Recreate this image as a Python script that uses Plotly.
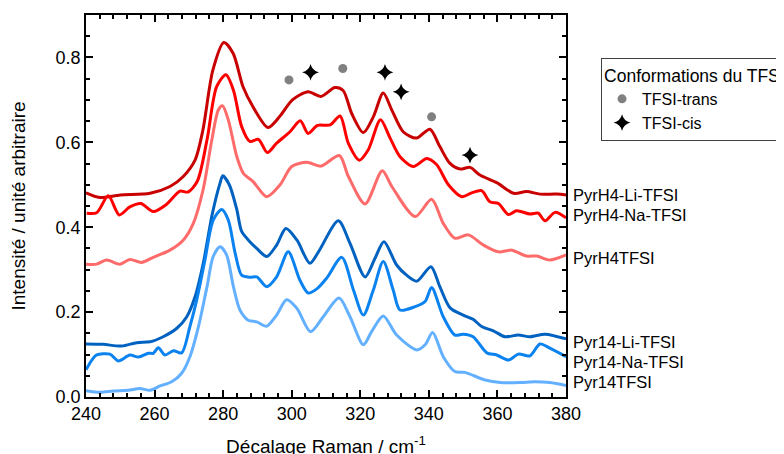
import plotly.graph_objects as go

# ---------------- data ----------------
li_h4_x = [240, 244, 250, 258.7, 264.5, 268.3, 271.8, 274.1, 277, 280.2, 282.9, 285.8, 288.7, 293.1,
           296.6, 300.2, 304.8, 308.5, 312.6, 315, 317.5, 320.9, 323.8, 326.7, 329.2, 332.5, 336.4,
           340.3, 343.2, 346.1, 349.1, 352, 354.9, 359.8, 364.7, 368.5, 372.4, 377.3, 380]
li_h4_y = [0.481, 0.470, 0.476, 0.480, 0.496, 0.519, 0.558, 0.629, 0.770, 0.835, 0.810, 0.731, 0.684, 0.635,
           0.662, 0.700, 0.719, 0.708, 0.729, 0.722, 0.668, 0.623, 0.660, 0.716, 0.676, 0.625, 0.610,
           0.631, 0.590, 0.551, 0.537, 0.541, 0.523, 0.505, 0.480, 0.484, 0.478, 0.478, 0.476]

na_h4_x = [240.2, 243.1, 246.5, 249.7, 252.8, 256, 259.6, 263.5, 267.4, 269.8, 272.5, 275.3, 278.1, 280.8,
           283, 285.4, 287.8, 290.3, 292.9, 295.6, 299.5, 302.5, 304.8, 307.5, 311.2, 314.1, 316.5,
           319.7, 322.3, 325.9, 328.7, 331.6, 335.5, 339.4, 342.3, 345.7, 349.6, 352.5, 355.4, 357.8,
           360.3, 363.2, 365.6, 369.5, 371.9, 373.9, 376.8, 380]
na_h4_y = [0.433, 0.434, 0.474, 0.429, 0.448, 0.456, 0.437, 0.454, 0.485, 0.483, 0.509, 0.606, 0.731, 0.759,
           0.723, 0.637, 0.602, 0.607, 0.576, 0.598, 0.625, 0.651, 0.621, 0.640, 0.641, 0.662, 0.598,
           0.558, 0.582, 0.653, 0.610, 0.566, 0.543, 0.562, 0.547, 0.500, 0.472, 0.481, 0.486, 0.460,
           0.456, 0.430, 0.439, 0.431, 0.433, 0.415, 0.435, 0.422]

h4_x = [240, 243.1, 246, 249.9, 252.8, 256.2, 259.6, 264.5, 268.4, 271.3, 274.2, 276.7, 278.6, 279.8,
        281.5, 284, 285.9, 288.8, 292.7, 296.6, 300, 304.4, 308.5, 313.9, 316.5, 321.4, 326.4, 329.2,
        336, 340.8, 344.2, 347.6, 351.5, 355.9, 360.3, 364.2, 368.5, 371.5, 375.3, 380]
h4_y = [0.313, 0.313, 0.323, 0.313, 0.324, 0.317, 0.329, 0.346, 0.370, 0.409, 0.490, 0.606, 0.676, 0.686,
        0.653, 0.566, 0.527, 0.507, 0.472, 0.500, 0.543, 0.553, 0.544, 0.569, 0.520, 0.455, 0.533, 0.496,
        0.425, 0.466, 0.409, 0.374, 0.382, 0.358, 0.342, 0.346, 0.332, 0.332, 0.323, 0.335]

li_14_x = [240, 245, 250.4, 254.8, 258.7, 262.5, 266.5, 269.4, 271.8, 274.2, 276.8, 279.1, 279.9, 281.8,
           284, 285.4, 287.8, 289.8, 292.7, 295.6, 298.3, 301.5, 305.3, 307.8, 313.6, 317, 321.4, 324.3,
           326.9, 330.6, 333.5, 336.5, 340.6, 343.2, 346.2, 350, 352.9, 355.4, 358.8, 362.2, 366.1,
           369.5, 373.9, 380]
li_14_y = [0.125, 0.124, 0.120, 0.128, 0.130, 0.142, 0.162, 0.189, 0.236, 0.315, 0.430, 0.504, 0.521, 0.500,
           0.441, 0.390, 0.366, 0.350, 0.331, 0.358, 0.397, 0.370, 0.315, 0.342, 0.415, 0.362, 0.283, 0.327,
           0.366, 0.311, 0.287, 0.273, 0.307, 0.260, 0.210, 0.193, 0.183, 0.166, 0.156, 0.142, 0.146,
           0.142, 0.148, 0.137]

na_14_x = [240, 241.7, 243.1, 247, 249.4, 252.8, 255.3, 258.2, 259.6, 261.1, 263, 265.5, 267.9, 270.3,
           272.3, 274.7, 277.1, 279.6, 281.5, 283.5, 285.4, 287.8, 289.8, 292.7, 295.6, 299, 302.4,
           304.8, 307.5, 310.2, 314.6, 318, 320.9, 323.8, 326.7, 329.6, 331.6, 336, 338.9, 340.8, 344.2,
           347.6, 350, 352.9, 356.9, 359.8, 363.2, 366.1, 369.5, 372.4, 375.3, 380]
na_14_y = [0.064, 0.087, 0.099, 0.101, 0.085, 0.099, 0.094, 0.103, 0.103, 0.116, 0.099, 0.109, 0.104, 0.166,
           0.229, 0.323, 0.417, 0.442, 0.417, 0.339, 0.287, 0.282, 0.283, 0.260, 0.283, 0.342, 0.275,
           0.245, 0.256, 0.280, 0.329, 0.252, 0.193, 0.252, 0.319, 0.252, 0.205, 0.213, 0.225, 0.258, 0.189,
           0.146, 0.148, 0.142, 0.104, 0.099, 0.087, 0.101, 0.097, 0.125, 0.115, 0.095]

p14_x = [240, 244.1, 248, 252.3, 255.7, 258.7, 261.6, 265, 267.9, 270.3, 272.8, 275.3, 277.1, 279.1, 281,
         283, 284.9, 287.3, 289.8, 292.7, 295.6, 298.5, 301.5, 305.5, 309.2, 313.8, 317, 320.9, 323.3,
         326.7, 330.6, 336.5, 338.9, 341.1, 344.2, 347.6, 350.5, 356.4, 360.8, 366.6, 371, 375.3, 380]
p14_y = [0.015, 0.011, 0.014, 0.016, 0.020, 0.016, 0.026, 0.036, 0.056, 0.095, 0.166, 0.260, 0.331, 0.354,
         0.335, 0.260, 0.205, 0.181, 0.177, 0.167, 0.193, 0.229, 0.209, 0.154, 0.189, 0.233, 0.189, 0.123,
         0.154, 0.191, 0.146, 0.111, 0.123, 0.152, 0.095, 0.060, 0.058, 0.040, 0.034, 0.034, 0.036, 0.034,
         0.027]

series_names = ["PyrH4-Li-TFSI", "PyrH4-Na-TFSI", "PyrH4TFSI",
                "Pyr14-Li-TFSI", "Pyr14-Na-TFSI", "Pyr14TFSI"]
label_y = [0.476, 0.429, 0.327, 0.130, 0.083, 0.036]

trans_x = [299.2, 314.9, 340.8]
trans_y = [0.747, 0.774, 0.660]
cis_x = [305.5, 327.2, 331.9, 352.0]
cis_y = [0.765, 0.765, 0.719, 0.570]

x_ticks = [240, 260, 280, 300, 320, 340, 360, 380]
y_ticks = [0.0, 0.2, 0.4, 0.6, 0.8]

# ---------------- figure ----------------
colors = ["#C80000", "#FF0000", "#FF6B6B", "#0062C0", "#0A82F0", "#62B0FF"]
xs = [li_h4_x, na_h4_x, h4_x, li_14_x, na_14_x, p14_x]
ys = [li_h4_y, na_h4_y, h4_y, li_14_y, na_14_y, p14_y]

fig = go.Figure()
for x, y, c, n in zip(xs, ys, colors, series_names):
    fig.add_trace(go.Scatter(x=x, y=y, mode="lines", name=n, showlegend=False,
                             line=dict(color=c, width=3, shape="spline", smoothing=0.8)))

fig.add_trace(go.Scatter(x=trans_x, y=trans_y, mode="markers", name="TFSI-trans",
                         marker=dict(symbol="circle", size=9, color="#808080")))
fig.add_trace(go.Scatter(x=cis_x, y=cis_y, mode="markers", name="TFSI-cis",
                         marker=dict(symbol="star-diamond", size=12, color="black")))

FONT = "Liberation Sans, Arial, sans-serif"
for n, ly in zip(series_names, label_y):
    fig.add_annotation(x=1, xref="paper", y=ly, yref="y", text=n, showarrow=False,
                       xanchor="left", yanchor="middle", xshift=5,
                       font=dict(family=FONT, size=16.5, color="black"))

axis_common = dict(showline=True, linecolor="black", linewidth=1.5, mirror="ticks",
                   ticks="inside", ticklen=7, tickwidth=1.5, tickcolor="black",
                   showgrid=False, zeroline=False, automargin=False,
                   tickfont=dict(family=FONT, size=18, color="black"))

fig.update_xaxes(range=[240, 380], tickvals=x_ticks,
                 minor=dict(dtick=4, tick0=240, ticks="inside", ticklen=4, tickwidth=1.5, tickcolor="black"),
                 title=dict(text="Décalage Raman / cm<sup>-1</sup>", standoff=16,
                            font=dict(family=FONT, size=19, color="black")),
                 **axis_common)
fig.update_yaxes(range=[0, 0.9], tickvals=y_ticks, tickformat=".1f",
                 minor=dict(dtick=0.05, tick0=0, ticks="inside", ticklen=4, tickwidth=1.5, tickcolor="black"),
                 title=dict(text="Intensité / unité arbitraire", standoff=26,
                            font=dict(family=FONT, size=19, color="black")),
                 **axis_common)

fig.update_layout(
    width=784, height=454,
    margin=dict(l=78, r=226, t=7, b=65, autoexpand=False),
    plot_bgcolor="white", paper_bgcolor="white",
    font=dict(family=FONT, color="black"),
    legend=dict(x=1.073, y=0.887, xanchor="left", yanchor="top",
                title=dict(text="Conformations du TFSI", font=dict(family=FONT, size=17.5)),
                font=dict(family=FONT, size=16, color="black"),
                bordercolor="#404040", borderwidth=1, bgcolor="white",
                itemsizing="trace", itemwidth=30, tracegroupgap=0),
    showlegend=True,
)

fig.write_html("out.html")
